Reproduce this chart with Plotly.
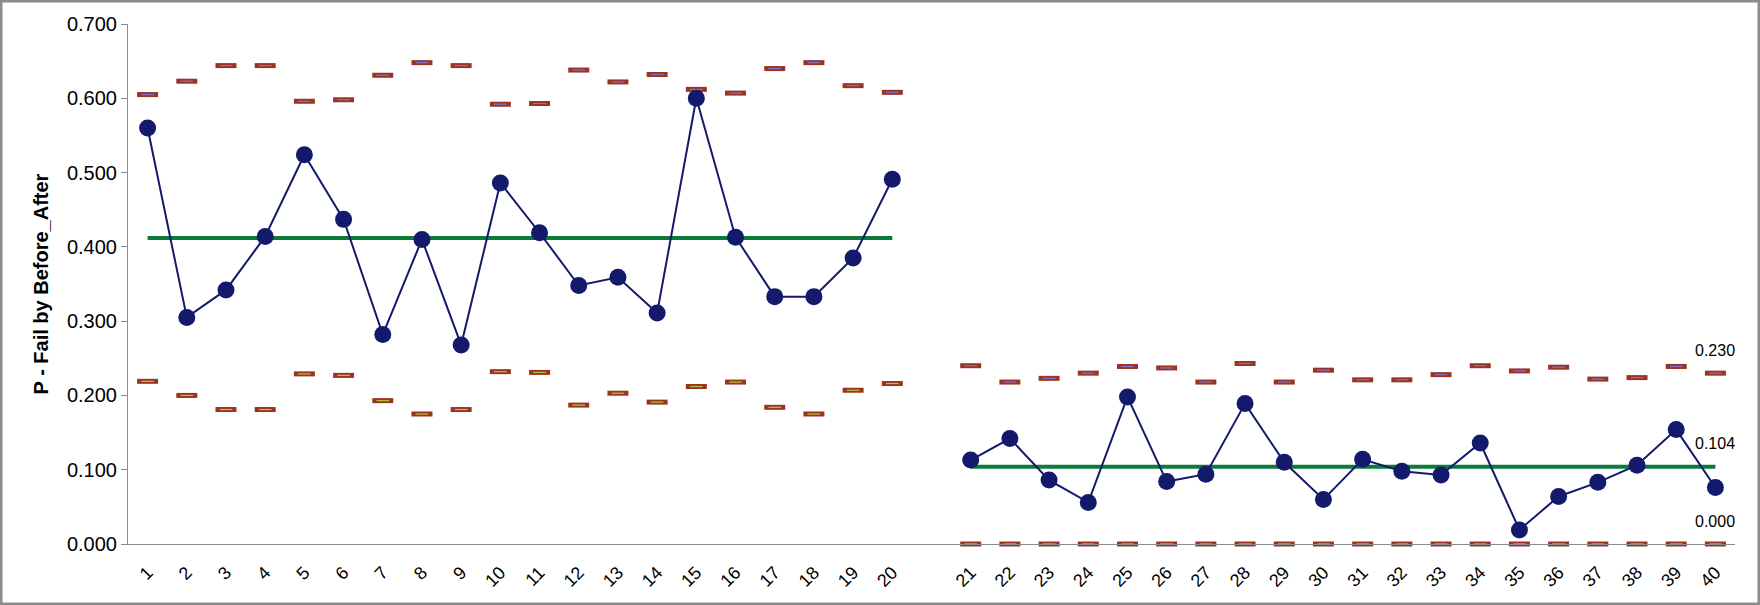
import plotly.graph_objects as go

# subgroup labels: 1-20 before, 21-40 after
labels_before = [str(i) for i in range(1, 21)]
labels_after = [str(i) for i in range(21, 41)]

p_before = [0.560, 0.305, 0.342, 0.414, 0.524, 0.437, 0.282, 0.410, 0.268, 0.486,
            0.419, 0.348, 0.359, 0.311, 0.600, 0.413, 0.333, 0.333, 0.385, 0.491]
ucl_before = [0.605, 0.623, 0.644, 0.644, 0.596, 0.598, 0.631, 0.648, 0.644, 0.592,
              0.593, 0.638, 0.622, 0.632, 0.612, 0.607, 0.640, 0.648, 0.617, 0.608]
lcl_before = [0.219, 0.200, 0.181, 0.181, 0.229, 0.227, 0.193, 0.175, 0.181, 0.232,
              0.231, 0.187, 0.203, 0.191, 0.212, 0.218, 0.184, 0.175, 0.207, 0.216]
cl_before = 0.412

p_after = [0.113, 0.142, 0.086, 0.056, 0.198, 0.084, 0.094, 0.189, 0.110, 0.060,
           0.114, 0.098, 0.093, 0.136, 0.019, 0.064, 0.083, 0.106, 0.154, 0.076]
ucl_after = [0.240, 0.218, 0.223, 0.230, 0.239, 0.237, 0.218, 0.243, 0.218, 0.234,
             0.221, 0.221, 0.228, 0.240, 0.233, 0.238, 0.222, 0.224, 0.239, 0.230]
lcl_after = [0.0, 0.0, 0.0, 0.0, 0.0, 0.0, 0.0, 0.0, 0.0, 0.0,
             0.0, 0.0, 0.0, 0.0, 0.0, 0.0, 0.0, 0.0, 0.0, 0.0]
cl_after = 0.104

# one empty slot between the two phases
x_before = list(range(0, 20))
x_after = list(range(21, 41))

NAVY = "#141a6b"
GREEN = "#0b7a3b"
BROWN = "#9c3320"

fig = go.Figure()


def limit_marks(xs, ys, inner):
    fig.add_trace(go.Scatter(x=xs, y=ys, mode="markers", cliponaxis=False,
                             marker=dict(symbol="line-ew", size=15,
                                         line=dict(width=5, color=BROWN)),
                             hoverinfo="skip"))
    fig.add_trace(go.Scatter(x=xs, y=ys, mode="markers", cliponaxis=False,
                             marker=dict(symbol="line-ew", size=9,
                                         line=dict(width=1.2, color=inner)),
                             hoverinfo="skip"))


limit_marks(x_before, ucl_before, "#7f72d6")
limit_marks(x_before, lcl_before, "#a8cc3a")
limit_marks(x_after, ucl_after, "#7f72d6")
limit_marks(x_after, lcl_after, "#c8c040")

for xs, cl in [(x_before, cl_before), (x_after, cl_after)]:
    fig.add_trace(go.Scatter(x=[xs[0], xs[-1]], y=[cl, cl], mode="lines",
                             line=dict(color=GREEN, width=4)))

for xs, ys in [(x_before, p_before), (x_after, p_after)]:
    fig.add_trace(go.Scatter(x=xs, y=ys, mode="lines+markers", cliponaxis=False,
                             line=dict(color=NAVY, width=2),
                             marker=dict(color=NAVY, size=17)))

for val in [ucl_after[-1], cl_after, lcl_after[-1]]:
    fig.add_annotation(x=x_after[-1], y=val, text=f"{val:.3f}", showarrow=False,
                       yshift=23, xanchor="center", yanchor="middle",
                       font=dict(size=16, color="black"))

# outer grey frame (paper coords, plot spans px 128-1735 x 24-544)
fig.add_shape(type="rect", xref="paper", yref="paper",
              x0=-127 / 1607, x1=1631 / 1607, y0=-60 / 520, y1=543 / 520,
              line=dict(color="#8c8c8c", width=3))

fig.update_layout(
    width=1760, height=605,
    margin=dict(l=128, r=25, t=24, b=61),
    paper_bgcolor="white", plot_bgcolor="white",
    showlegend=False,
    font=dict(family="Liberation Sans, Arial, sans-serif", color="black"),
)
fig.update_xaxes(range=[-0.5, 40.5], tickvals=x_before + x_after,
                 ticktext=labels_before + labels_after, tickangle=-45,
                 tickfont=dict(size=18), showgrid=False, zeroline=False,
                 showline=True, linecolor="#8c8c8c", linewidth=1, ticks="",
                 ticklabelstandoff=10)
fig.update_yaxes(range=[0, 0.7], dtick=0.1, tickformat=".3f",
                 tickfont=dict(size=20), showgrid=False, zeroline=False,
                 showline=True, linecolor="#8c8c8c", linewidth=1,
                 ticks="outside", ticklen=6, tickcolor="#8c8c8c",
                 title=dict(text="<b>P - Fail by Before_After</b>",
                            font=dict(size=20), standoff=12))

fig.write_html("out.html", config={"displayModeBar": False},
               post_script="document.body.style.margin='0';")
